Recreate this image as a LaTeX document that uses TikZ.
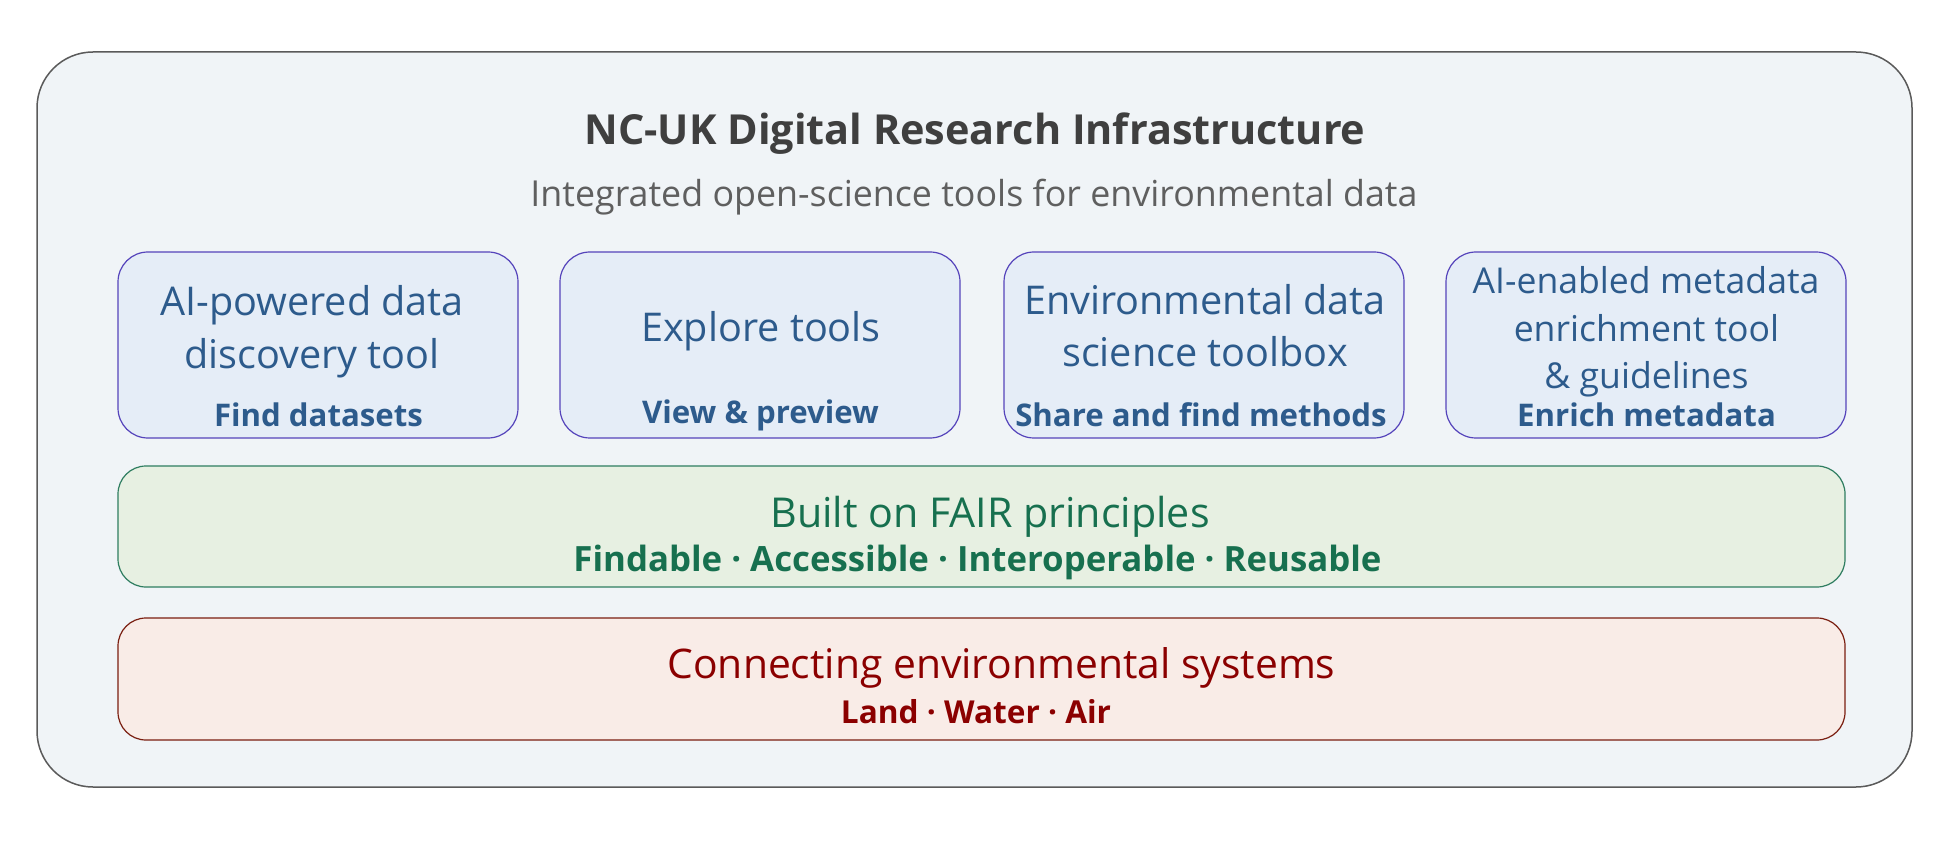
\documentclass[tikz,border=0pt]{standalone}
\usepackage{fontspec}
\setmainfont{Open Sans}
\definecolor{outerfill}{HTML}{F0F4F7}
\definecolor{outerline}{HTML}{5A5A5A}
\definecolor{titlecol}{HTML}{3F3F3F}
\definecolor{subcol}{HTML}{5F5F5F}
\definecolor{toolfill}{HTML}{E5EDF7}
\definecolor{toolline}{HTML}{5544BB}
\definecolor{tooltext}{HTML}{2D5B8C}
\definecolor{fairfill}{HTML}{E7F0E2}
\definecolor{fairline}{HTML}{2E7D60}
\definecolor{fairtext}{HTML}{17704F}
\definecolor{envfill}{HTML}{F9ECE7}
\definecolor{envline}{HTML}{7A1E10}
\definecolor{envtext}{HTML}{8B0000}
\begin{document}
\begin{tikzpicture}[x=0.5pt,y=-0.5pt,
  outerbox/.style={draw=outerline,fill=outerfill,line width=0.75pt,rounded corners=28pt},
  toolbox/.style={draw=toolline,fill=toolfill,line width=0.6pt,rounded corners=15pt,minimum width=200pt,minimum height=93pt,inner sep=0pt},
  fairbox/.style={draw=fairline,fill=fairfill,line width=0.6pt,rounded corners=14pt,minimum width=863.5pt,minimum height=60.5pt,inner sep=0pt},
  envbox/.style={draw=envline,fill=envfill,line width=0.6pt,rounded corners=14pt,minimum width=863.5pt,minimum height=61pt,inner sep=0pt},
  maintxt/.style={anchor=base,inner sep=0pt,text=tooltext,font=\fontsize{19.8}{22}\selectfont},
  smalltxt/.style={anchor=base,inner sep=0pt,text=tooltext,font=\fontsize{17.8}{22}\selectfont},
  boldtxt/.style={anchor=base,inner sep=0pt,text=tooltext,font=\fontsize{15.6}{18}\selectfont\bfseries},
]
\useasboundingbox (0,0) rectangle (1953,844);
\node[outerbox,minimum width=937.5pt,minimum height=367.5pt,inner sep=0pt] (outer) at (974.5,419.5) {};
\node[anchor=base,inner sep=0pt,text=titlecol,font=\fontsize{20.7}{24}\selectfont\bfseries] (title) at (975,144.5) {NC-UK Digital Research Infrastructure};
\node[anchor=base,inner sep=0pt,text=subcol,font=\fontsize{17.9}{20}\selectfont] (subtitle) at (974,207) {Integrated open-science tools for environmental data};
% tool boxes
\node[toolbox] (t1) at (318,345) {};
\node[toolbox] (t2) at (760,345) {};
\node[toolbox] (t3) at (1204,345) {};
\node[toolbox] (t4) at (1646,345) {};
\node[maintxt] (t1a) at (312,316) {AI-powered data};
\node[maintxt] (t1b) at (312,368.5) {discovery tool};
\node[boldtxt] (t1c) at (318.5,426) {Find datasets};
\node[maintxt] (t2a) at (761,342) {Explore tools};
\node[boldtxt] (t2c) at (760.5,423.5) {View \& preview};
\node[maintxt] (t3a) at (1205,314.5) {Environmental data};
\node[maintxt] (t3b) at (1205,367) {science toolbox};
\node[boldtxt] (t3c) at (1201,426.5) {Share and find methods};
\node[smalltxt] (t4a) at (1646,293.5) {AI-enabled metadata};
\node[smalltxt] (t4b) at (1646.5,341.5) {enrichment tool};
\node[smalltxt] (t4c) at (1646.5,388) {\& guidelines};
\node[boldtxt] (t4d) at (1646.5,426) {Enrich metadata};
% FAIR
\node[fairbox] (fair) at (981.5,526.5) {};
\node[maintxt,text=fairtext,font=\fontsize{20.6}{22}\selectfont] (faira) at (990,527) {Built on FAIR principles};
\node[boldtxt,text=fairtext,font=\fontsize{17.4}{20}\selectfont\bfseries] (fairb) at (977.5,571) {Findable · Accessible · Interoperable · Reusable};
% environment
\node[envbox] (env) at (981.5,679) {};
\node[maintxt,text=envtext,font=\fontsize{20.4}{22}\selectfont] (enva) at (1001.5,678.5) {Connecting environmental systems};
\node[boldtxt,text=envtext,font=\fontsize{15.8}{18}\selectfont\bfseries] (envb) at (976,723.5) {Land · Water · Air};
\end{tikzpicture}
\end{document}
